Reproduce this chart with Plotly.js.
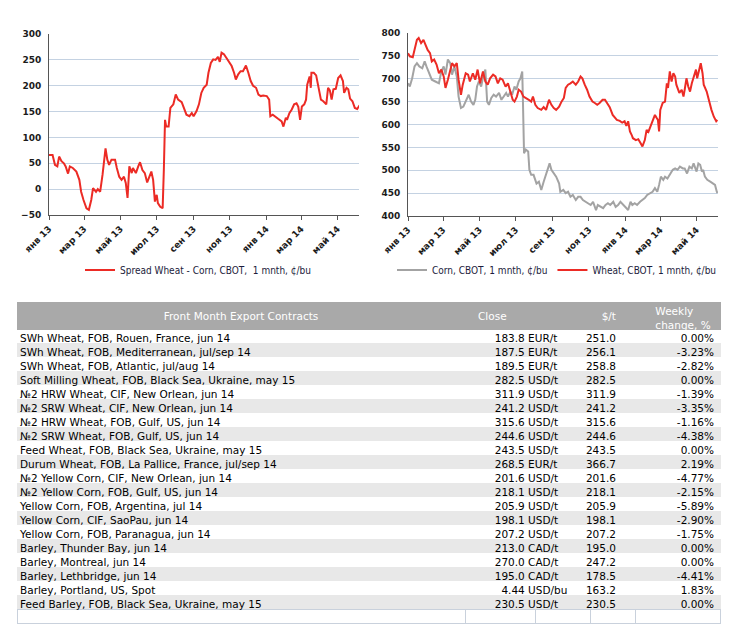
<!DOCTYPE html>
<html><head><meta charset="utf-8">
<script src="https://cdn.plot.ly/plotly-3.0.1.min.js"></script>
<style>html,body{margin:0;padding:0;background:#fff}#chart{width:736px;height:632px}</style>
</head><body><div id="chart"></div>
<script>
// ---- time series (day offsets from 2013-01-01, values in ¢/bu) ----
const spreadDays = [0,6,10,14,17,21,25,28,32,35,40,46,51,54,58,63,67,71,74,79,82,86,90,93,95,98,101,105,111,114,118,122,126,129,132,135,139,141,146,150,153,157,161,165,168,172,175,178,181,183,187,191,193,195,197,201,204,209,213,217,223,227,231,236,240,243,248,252,256,260,265,268,272,276,280,284,287,290,294,298,303,307,311,314,318,322,326,331,335,339,343,348,352,356,360,366,370,372,376,380,385,391,394,398,400,404,408,412,416,419,422,425,429,432,434,438,440,441,445,449,453,457,461,466,469,472,475,478,482,486,490,494,496,500,503,506,510,514,518,522];
const spreadVals = [66,66,47,44,63,54,50,44,30,44,41,34,18,-5,-21,-37,-40,-21,2,-5,0,-5,28,57,79,57,47,57,57,41,24,18,24,12,-17,44,31,41,31,44,52,37,31,13,24,34,18,-24,-11,-27,-34,-37,37,134,121,121,157,164,183,173,168,154,144,141,147,141,151,164,186,196,202,225,244,251,250,256,246,264,261,254,244,238,225,212,222,228,228,239,225,209,200,196,183,180,181,180,173,141,144,140,136,131,121,138,134,147,154,164,166,159,134,160,164,173,202,218,196,225,225,220,196,173,170,164,196,191,173,193,194,215,220,209,186,196,193,175,170,157,155,162];

const cornDays = [0,3,7,11,15,19,24,28,31,36,40,46,52,56,60,63,67,71,74,78,82,85,89,93,98,102,106,110,113,116,119,123,127,130,133,136,140,144,148,153,157,161,165,168,172,175,179,182,186,189,192,193,195,198,202,204,207,211,216,220,224,228,231,235,238,241,245,249,254,256,261,265,269,273,277,282,286,290,294,299,303,307,311,316,319,323,328,332,336,340,345,349,353,357,362,366,370,374,377,381,385,390,394,398,402,407,411,415,419,422,425,429,432,436,440,445,449,453,457,462,465,469,473,477,480,482,485,488,491,494,496,499,503,508,512,516,519,520];
const cornVals = [690,683,701,727,734,727,723,738,727,709,698,694,690,716,727,709,742,734,709,727,705,661,636,639,654,665,650,643,654,683,694,683,709,720,650,643,658,665,661,669,654,661,669,661,672,665,683,676,694,701,716,661,537,545,541,501,490,490,471,475,457,475,486,504,515,501,493,486,471,453,457,450,453,442,446,435,442,442,435,431,428,424,431,413,424,420,417,424,428,424,431,420,424,431,424,420,413,431,424,428,424,431,435,439,446,450,453,461,453,468,486,479,486,482,490,501,504,501,508,504,504,493,508,504,515,508,497,515,512,497,501,486,479,475,471,468,453,450];

const wheatDays = [0,3,8,11,15,18,22,26,29,33,37,40,44,48,52,56,60,63,67,71,74,78,82,85,89,92,97,101,104,109,113,117,121,126,130,134,138,143,147,151,155,159,164,168,172,176,179,183,186,190,194,199,203,207,210,214,218,224,228,232,237,241,245,249,254,258,262,265,269,273,277,282,286,290,293,297,301,305,310,314,318,322,327,331,335,339,344,347,351,356,360,364,367,370,373,376,378,383,387,391,394,398,401,404,408,412,415,418,420,422,424,428,432,435,437,440,443,446,449,451,456,460,463,465,468,471,474,477,480,484,486,490,492,495,497,502,506,510,514,518,520];
const wheatVals = [756,749,747,763,785,789,778,785,774,763,756,738,742,731,712,720,705,680,698,720,734,727,734,698,665,687,712,709,694,712,698,720,690,716,694,687,701,709,705,690,701,698,683,690,672,654,650,661,676,672,661,658,654,650,661,643,636,632,638,632,654,643,636,632,639,650,658,680,687,690,694,687,694,705,701,687,676,661,650,647,643,647,654,654,647,638,621,617,610,608,604,607,597,607,585,577,570,566,568,559,552,566,588,584,599,610,621,614,610,585,632,647,650,690,680,716,694,712,705,687,669,676,661,676,701,683,672,690,705,720,701,727,734,712,687,672,650,632,617,607,610];

const tickDates  = ['2013-01-01','2013-03-01','2013-05-01','2013-07-01','2013-09-01','2013-11-01','2014-01-01','2014-03-01','2014-05-01'];
const tickLabels = ['янв 13','мар 13','май 13','июл 13','сен 13','ноя 13','янв 14','мар 14','май 14'];

// ---- table ----
const contracts = [
"SWh Wheat, FOB, Rouen, France, jun 14",
"SWh Wheat, FOB, Mediterranean, jul/sep 14",
"SWh Wheat, FOB, Atlantic, jul/aug 14",
"Soft Milling Wheat, FOB, Black Sea, Ukraine, may 15",
"№2 HRW Wheat, CIF, New Orlean, jun 14",
"№2 SRW Wheat, CIF, New Orlean, jun 14",
"№2 HRW Wheat, FOB, Gulf, US, jun 14",
"№2 SRW Wheat, FOB, Gulf, US, jun 14",
"Feed Wheat, FOB, Black Sea, Ukraine, may 15",
"Durum Wheat, FOB, La Pallice, France, jul/sep 14",
"№2 Yellow Corn, CIF, New Orlean, jun 14",
"№2 Yellow Corn, FOB, Gulf, US, jun 14",
"Yellow Corn, FOB, Argentina, jul 14",
"Yellow Corn, CIF, SaoPau, jun 14",
"Yellow Corn, FOB, Paranagua, jun 14",
"Barley, Thunder Bay, jun 14",
"Barley, Montreal, jun 14",
"Barley, Lethbridge, jun 14",
"Barley, Portland, US, Spot",
"Feed Barley, FOB, Black Sea, Ukraine, may 15"];
const closeVals = ["183.8","187.5","189.5","282.5","311.9","241.2","315.6","244.6","243.5","268.5","201.6","218.1","205.9","198.1","207.2","213.0","270.0","195.0","4.44","230.5"];
const closeUnits = ["EUR/t","EUR/t","EUR/t","USD/t","USD/t","USD/t","USD/t","USD/t","USD/t","EUR/t","USD/t","USD/t","USD/t","USD/t","USD/t","CAD/t","CAD/t","CAD/t","USD/bu","USD/t"];
const usdPerTon = [251.0,256.1,258.8,282.5,311.9,241.2,315.6,244.6,243.5,366.7,201.6,218.1,205.9,198.1,207.2,195.0,247.2,178.5,163.2,230.5];
const weeklyChange = [0.00,-3.23,-2.82,0.00,-1.39,-3.35,-1.16,-4.38,0.00,2.19,-4.77,-2.15,-5.89,-2.90,-1.75,0.00,0.00,-4.41,1.83,0.00];
const headerSingle = ["Front Month Export Contracts","Close","$/t",""];
const headerWeekly = ["Weekly","change, %"];

// ---- build ----
const W = 736, H = 632;
const base = Date.UTC(2013,0,1);
const toDate = d => new Date(base + d*864e5).toISOString().slice(0,10);
const RED = '#ec2b25', GRAY = '#a3a3a3';
const tickFont = {family:'DejaVu Sans', size:9, color:'#1b1b1b', weight:'bold'};
const legFont = {family:'DejaVu Sans Condensed', size:10, color:'#1c1c3c'};
const tabFont = 'DejaVu Sans';
const TS = 10.5;
const FS = '\u2007', PS = '\u2008';
const CLEAR = 'rgba(0,0,0,0)';

const traces = [
 {type:'scatter', mode:'lines', x:spreadDays.map(toDate), y:spreadVals, xaxis:'x', yaxis:'y',
  name:'Spread Wheat - Corn, CBOT,  1 mnth, ¢/bu', line:{color:RED, width:2}, legend:'legend', hoverinfo:'skip'},
 {type:'scatter', mode:'lines', x:cornDays.map(toDate), y:cornVals, xaxis:'x2', yaxis:'y2',
  name:'Corn, CBOT, 1 mnth, ¢/bu', line:{color:GRAY, width:2}, legend:'legend2', hoverinfo:'skip'},
 {type:'scatter', mode:'lines', x:wheatDays.map(toDate), y:wheatVals, xaxis:'x2', yaxis:'y2',
  name:'Wheat, CBOT, 1 mnth, ¢/bu', line:{color:RED, width:2}, legend:'legend2', hoverinfo:'skip'}
];

const n = contracts.length;
const rowFill = [];
for (let i=0;i<n;i++) rowFill.push(i%2===0 ? '#ffffff' : '#e8e8e8');
rowFill.push('#ffffff');
const rowLine = rowFill.slice(0,n).concat(['#c9d1dc']);
const blanks = rowFill.map(()=> '');
const closeText = closeVals.map((v,i)=> FS+FS+PS + FS.repeat(5-v.length) + v + ' ' + closeUnits[i]);

// background table: header band + striped rows
const bgCols = [448, 70, 55, 45, 85];
const bx0 = 17, bx1 = 720;
traces.push({
  type:'table', domain:{x:[bx0/W, bx1/W], y:[0, 1-302/H]}, columnwidth:bgCols,
  header:{values:bgCols.map(()=>''), fill:{color:'#a9a9a9'}, line:{color:'#a9a9a9', width:1}, height:27},
  cells:{values:bgCols.map(()=>blanks), fill:{color:bgCols.map(()=>rowFill)},
         line:{color:bgCols.map(()=>rowLine), width:1}, height:14}
});

// text tables
const tx0 = 12, tx1 = 722;
const colW = [458, 114, 40, 98];
const dom = (top,bot)=>({x:[tx0/W, tx1/W], y:[1-bot/H, 1-top/H]});
traces.push({
  type:'table', domain:dom(306, 632), columnwidth:colW,
  header:{values:['','','',''], fill:{color:CLEAR}, line:{color:CLEAR}, height:20},
  cells:{values:[contracts, closeText, usdPerTon.map(v=>v.toFixed(1)), weeklyChange.map(v=>v.toFixed(2)+'%')],
         align:['left','left','right','right'], fill:{color:CLEAR}, line:{color:CLEAR},
         font:{family:tabFont, size:TS, color:'#000000'}, height:14}
});
traces.push({
  type:'table', domain:dom(304, 360), columnwidth:colW,
  header:{values:headerSingle, align:['center','left','right','center'], fill:{color:CLEAR}, line:{color:CLEAR},
          font:{family:tabFont, size:TS, color:'#ffffff'}, height:24},
  cells:{values:[[],[],[],[]], fill:{color:CLEAR}, line:{color:CLEAR}}
});
traces.push({
  type:'table', domain:dom(297, 360), columnwidth:colW,
  header:{values:['','','', headerWeekly.map(s=>FS+FS+FS+s).join('<br>')], align:'center', fill:{color:CLEAR}, line:{color:CLEAR},
          font:{family:tabFont, size:TS, color:'#ffffff'}, height:24},
  cells:{values:[[],[],[],[]], fill:{color:CLEAR}, line:{color:CLEAR}}
});

function xa(x0,x1){return {domain:[x0/W,x1/W], type:'date', range:['2013-01-01','2014-06-06'],
  tickmode:'array', tickvals:tickDates, ticktext:tickLabels, tickangle:-45, ticks:'outside', ticklen:4,
  tickcolor:'#555', showline:true, linecolor:'#555', linewidth:1, showgrid:false, zeroline:false,
  tickfont:tickFont, fixedrange:true};}
function ya(y0,y1,r){return {domain:[1-y1/H,1-y0/H], range:r, dtick:50, tick0:0, showgrid:true,
  gridcolor:'#c4d2e2', gridwidth:1, showline:true, linecolor:'#555', linewidth:1, zeroline:false,
  ticks:'', ticklabelstandoff:5, tickfont:tickFont, fixedrange:true};}

const layout = {
  width:W, height:H, margin:{l:0,r:0,t:0,b:0}, paper_bgcolor:'#fff', plot_bgcolor:'#fff',
  showlegend:true,
  xaxis: Object.assign(xa(49,359), {anchor:'y'}),
  yaxis: Object.assign(ya(34,215,[-50,300]), {anchor:'x'}),
  xaxis2: Object.assign(xa(408,718), {anchor:'y2'}),
  yaxis2: Object.assign(ya(33,216,[400,800]), {anchor:'x2'}),
  legend:{orientation:'h', x:198/W, xanchor:'center', y:1-270/H, yanchor:'middle', font:legFont, bgcolor:CLEAR},
  legend2:{orientation:'h', x:557/W, xanchor:'center', y:1-270/H, yanchor:'middle', font:legFont, bgcolor:CLEAR}
};
Plotly.newPlot('chart', traces, layout, {displayModeBar:false, staticPlot:true});
</script></body></html>
